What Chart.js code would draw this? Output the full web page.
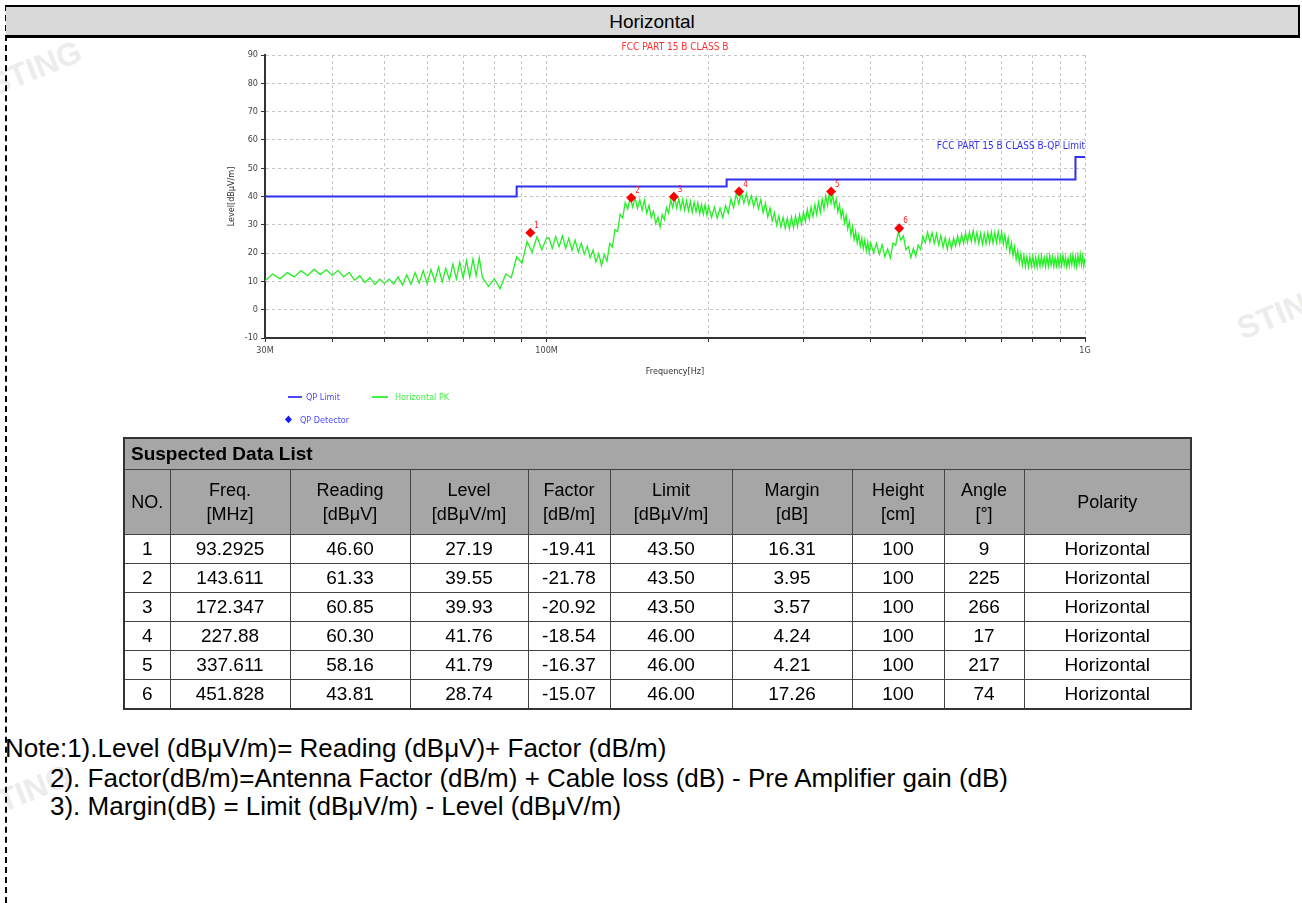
<!DOCTYPE html>
<html>
<head>
<meta charset="utf-8">
<script src="https://cdn.jsdelivr.net/npm/chart.js@4"></script>
<style>
  html,body{margin:0;padding:0;background:#fff;}
  body{width:1302px;height:903px;position:relative;overflow:hidden;font-family:"Liberation Sans",Arial,sans-serif;}
  #leftdash{position:absolute;left:5px;top:5px;bottom:0;border-left:2px dashed #000;}
  #topbar{position:absolute;left:6px;top:5px;width:1292px;height:28px;background:#d9d9d9;border-top:2px solid #000;border-bottom:3px solid #000;border-right:2px solid #000;text-align:center;font-size:19px;line-height:29px;color:#000;}
  #chartbox{position:absolute;left:200px;top:40px;width:900px;height:400px;}
  .lg{position:absolute;font-family:"Liberation Sans Narrow","DejaVu Sans Condensed",sans-serif;font-size:9px;line-height:10px;}
  .lgline{position:absolute;height:2px;}
  .wm{position:absolute;color:#ececec;font-weight:bold;font-size:32px;transform:rotate(-22deg);white-space:nowrap;}
  table{position:absolute;left:123px;top:437px;width:1067px;border-collapse:collapse;table-layout:fixed;font-size:19px;border:2px solid #333;}
  td,th{border:1px solid #444;text-align:center;padding:0;color:#000;}
  .cap{background:#a6a6a6;text-align:left;font-weight:bold;font-size:19px;height:30px;padding-left:6px;}
  th{background:#a6a6a6;font-weight:normal;font-size:18px;line-height:24px;height:64px;}
  td{height:28px;line-height:20px;}
  .note{position:absolute;font-size:26px;line-height:30px;color:#000;white-space:nowrap;}
</style>
</head>
<body>
<div class="wm" style="left:-14px;top:50px;">STING</div>
<div class="wm" style="left:1236px;top:298px;">STIN</div>
<div class="wm" style="left:-4px;top:770px;">TING</div>
<div id="leftdash"></div>
<div id="topbar">Horizontal</div>
<div id="chartbox"><canvas id="c"></canvas></div>

<div class="lgline" style="left:288px;top:396px;width:14px;background:#4a4aff;"></div>
<div class="lg" style="left:306px;top:392px;color:#4a4aff;">QP Limit</div>
<div class="lgline" style="left:372px;top:396px;width:16px;background:#44ee44;"></div>
<div class="lg" style="left:395px;top:392px;color:#44ee44;">Horizontal PK</div>
<div class="lg" style="left:285px;top:414px;color:#1a1aff;font-size:10px;">&#9670;</div>
<div class="lg" style="left:300px;top:415px;color:#4a4aff;">QP Detector</div>

<table id="tbl"></table>

<div class="note" style="left:5px;top:733px;">Note:1).Level (dBμV/m)= Reading (dBμV)+ Factor (dB/m)</div>
<div class="note" style="left:50px;top:763px;">2). Factor(dB/m)=Antenna Factor (dB/m) + Cable loss (dB) - Pre Amplifier gain (dB)</div>
<div class="note" style="left:50px;top:791px;">3). Margin(dB) = Limit (dBμV/m) - Level (dBμV/m)</div>

<script>
// ---------- DATA ----------
const chartTitle = "FCC PART 15 B CLASS B";
const limitLabel = "FCC PART 15 B CLASS B-QP Limit";
const xAxisTitle = "Frequency[Hz]";
const yAxisTitle = "Level[dBμV/m]";

const xTickValues = [30,40,50,60,70,80,90,100,200,300,400,500,600,700,800,900,1000];
const xTickLabels = ["30M","","","","","","","100M","","","","","","","","","1G"];

const limitFreq = [30, 88, 88, 216, 216, 960, 960, 1000];
const limitLevel = [40, 40, 43.5, 43.5, 46, 46, 54, 54];

const peakFreq = [
30,31,32,33,34,35,36,37,38,39,40,41,42,43,44,45,46,47,48,49,
50,51,52,53,54,55,56,57,58,59,60,61,62,63,64,65,66,67,68,69,70,71,72,73,74,75,76,
78,80,82,84,86,88,90,92,94,96,98,100,
101,102.5,104,105.5,107,108.5,110,111.5,113,114.5,116,117.5,119,120.5,122,123.5,125,126.5,128,129.5,
131,132.5,134,135.5,137,138.5,140,141.5,143,144.5,146,147.5,149,150.5,152,153.5,155,156.5,158,159.5,
161,162.5,164,165.5,167,168.5,170,171.5,173,174.5,176,177.5,179,180.5,182,183.5,185,186.5,188,189.5,
191,192.5,194,195.5,197,198.5,200,
202.5,205,207.5,210,212.5,215,217.5,220,222.5,225,227.5,230,232.5,235,237.5,240,242.5,245,247.5,250,
252.5,255,257.5,260,262.5,265,267.5,270,272.5,275,277.5,280,282.5,285,287.5,290,292.5,295,297.5,300,
302.5,305,307.5,310,312.5,315,317.5,320,322.5,325,327.5,330,332.5,335,337.5,340,342.5,345,347.5,350,
352.5,355,357.5,360,362.5,365,367.5,370,372.5,375,377.5,380,382.5,385,387.5,390,392.5,395,397.5,400,
405,410,415,420,425,430,435,440,445,450,455,460,465,470,475,480,485,490,495,500,
505,510,515,520,525,530,535,540,545,550,555,560,565,570,575,580,585,590,595,600,
605,610,615,620,625,630,635,640,645,650,655,660,665,670,675,680,685,690,695,700,
705,710,715,720,725,730,735,740,745,750,755,760,765,770,775,780,785,790,795,800,
805,810,815,820,825,830,835,840,845,850,855,860,865,870,875,880,885,890,895,900,
905,910,915,920,925,930,935,940,945,950,955,960,965,970,975,980,985,990,995,1000];

const peakLevel = [
10.2,12.6,10.9,13.1,11.6,13.8,12.0,14.3,12.4,14.1,12.1,13.9,11.6,13.2,10.4,12.0,9.6,11.3,8.9,10.8,
9.3,10.8,9.1,11.6,8.7,12.3,9.0,13.1,9.4,13.8,9.2,14.2,10.1,15.0,9.8,14.6,10.6,16.1,10.9,16.8,11.2,17.3,11.5,17.9,12.0,18.4,11.4,
8.2,10.9,7.4,12.6,11.3,18.7,16.4,24.1,20.3,25.8,21.2,25.3,
25.4,21.6,25.9,22.3,26.1,21.7,25.2,21.0,24.6,20.4,23.5,19.6,22.4,18.3,21.1,16.9,19.8,15.6,19.5,17.2,
23.4,22.1,28.3,27.6,33.8,32.4,37.9,35.6,39.8,36.3,39.6,35.8,38.9,35.2,38.7,34.1,36.9,32.6,34.8,30.4,
32.7,29.2,33.6,31.8,36.1,34.2,38.8,36.1,39.6,35.9,39.2,35.6,38.9,35.2,38.5,34.9,38.3,34.4,37.9,34.6,
37.8,33.9,37.2,33.7,37.0,33.4,36.6,
32.6,36.2,32.3,35.9,32.5,36.8,34.1,39.2,36.0,40.9,37.4,41.6,37.6,41.1,37.2,40.3,36.4,39.8,35.7,38.9,
34.3,37.6,32.8,35.9,31.4,34.2,29.9,33.1,29.2,32.6,28.7,32.4,28.6,32.7,28.9,33.1,29.4,33.6,30.2,34.5,
31.1,35.4,32.0,36.2,32.9,37.1,33.6,38.0,34.4,39.1,35.5,40.2,36.8,41.0,37.6,40.7,36.4,39.2,34.6,37.1,
32.5,35.2,30.6,33.3,28.5,31.2,26.4,29.3,24.8,27.6,23.5,26.4,22.4,25.3,21.5,24.6,20.8,23.9,20.2,23.5,
20.1,23.4,19.6,22.9,18.7,21.4,18.2,23.6,22.8,27.4,24.6,26.1,21.2,22.3,18.4,21.6,18.9,22.8,21.3,25.9,
23.7,27.4,23.9,27.2,23.5,26.8,22.9,26.3,22.1,25.4,21.4,24.9,21.6,25.3,22.4,26.1,22.9,26.6,23.4,27.1,
23.8,27.4,24.1,27.9,23.8,27.3,23.4,27.0,23.1,26.8,23.3,27.2,23.6,27.5,23.5,27.3,23.7,27.6,23.9,27.4,
23.2,26.5,22.1,25.3,20.4,23.6,19.1,22.2,17.8,20.9,16.6,19.8,15.7,19.1,15.2,18.8,15.1,18.6,15.4,18.9,
15.2,18.4,14.9,18.7,15.3,19.0,15.6,18.5,15.1,18.8,15.4,19.2,15.7,18.6,15.2,18.4,15.5,18.9,15.3,18.7,
15.6,19.3,15.8,18.5,15.1,18.2,15.4,18.9,15.9,19.4,15.6,18.8,15.3,19.1,16.2,19.6,15.8,18.9,15.4,18.3];

// QP detector table
const qpNo = [1,2,3,4,5,6];
const qpFreq = [93.2925,143.611,172.347,227.88,337.611,451.828];
const qpFreqText = ["93.2925","143.611","172.347","227.88","337.611","451.828"];
const qpReading = ["46.60","61.33","60.85","60.30","58.16","43.81"];
const qpLevel = [27.19,39.55,39.93,41.76,41.79,28.74];
const qpFactor = ["-19.41","-21.78","-20.92","-18.54","-16.37","-15.07"];
const qpLimit = ["43.50","43.50","43.50","46.00","46.00","46.00"];
const qpMargin = ["16.31","3.95","3.57","4.24","4.21","17.26"];
const qpHeight = ["100","100","100","100","100","100"];
const qpAngle = ["9","225","266","17","217","74"];
const qpPolarity = ["Horizontal","Horizontal","Horizontal","Horizontal","Horizontal","Horizontal"];

const tableHeaders = ["NO.","Freq.<br>[MHz]","Reading<br>[dBμV]","Level<br>[dBμV/m]","Factor<br>[dB/m]","Limit<br>[dBμV/m]","Margin<br>[dB]","Height<br>[cm]","Angle<br>[°]","Polarity"];
const colWidths = [46,120,120,118,82,122,120,92,80,167];

// ---------- TABLE ----------
(function(){
  const t = document.getElementById('tbl');
  let h = '<colgroup>' + colWidths.map(w=>'<col style="width:'+w+'px">').join('') + '</colgroup>';
  h += '<tr><td class="cap" colspan="10">Suspected Data List</td></tr>';
  h += '<tr>' + tableHeaders.map(s=>'<th>'+s+'</th>').join('') + '</tr>';
  for(let i=0;i<qpNo.length;i++){
    h += '<tr><td>'+qpNo[i]+'</td><td>'+qpFreqText[i]+'</td><td>'+qpReading[i]+'</td><td>'+qpLevel[i].toFixed(2)+'</td><td>'+qpFactor[i]+'</td><td>'+qpLimit[i]+'</td><td>'+qpMargin[i]+'</td><td>'+qpHeight[i]+'</td><td>'+qpAngle[i]+'</td><td>'+qpPolarity[i]+'</td></tr>';
  }
  t.innerHTML = h;
})();

// ---------- CHART ----------
const FONT = '"Liberation Sans Narrow","DejaVu Sans Condensed",sans-serif';

const overlay = {
  id:'overlay',
  afterDraw(chart){
    const {ctx, chartArea:a, scales:{x,y}} = chart;
    ctx.save();
    ctx.font = '10px ' + FONT;
    ctx.textBaseline = 'middle';
    ctx.textAlign = 'center';
    ctx.fillStyle = '#ff3030';
    ctx.fillText(chartTitle, (a.left+a.right)/2, a.top - 8);
    ctx.fillStyle = '#3030ee';
    ctx.textAlign = 'right';
    ctx.fillText(limitLabel, a.right, y.getPixelForValue(54) - 10);
    ctx.fillStyle = '#333';
    ctx.textAlign = 'center';
    ctx.font = '9px ' + FONT;
    ctx.fillText(xAxisTitle, (a.left+a.right)/2, a.bottom + 34);
    ctx.save();
    ctx.translate(32, (a.top+a.bottom)/2);
    ctx.rotate(-Math.PI/2);
    ctx.fillText(yAxisTitle, 0, 0);
    ctx.restore();
    ctx.fillStyle = '#ff2020';
    ctx.font = '8px ' + FONT;
    ctx.textAlign = 'left';
    for(let i=0;i<qpNo.length;i++){
      const px = x.getPixelForValue(qpFreq[i]);
      const py = y.getPixelForValue(qpLevel[i]);
      ctx.fillText(String(qpNo[i]), px + 4, py - 7);
    }
    ctx.restore();
  }
};

new Chart(document.getElementById('c'), {
  type: 'scatter',
  data: {
    datasets: [
      {
        label: 'QP Detector',
        data: qpFreq.map((f,i)=>({x:f, y:qpLevel[i]})),
        pointStyle: 'rectRot',
        pointRadius: 5,
        backgroundColor: '#ff0000',
        borderColor: '#ff0000',
        borderWidth: 0,
        showLine: false,
        order: 0
      },
      {
        label: 'QP Limit',
        data: limitFreq.map((f,i)=>({x:f, y:limitLevel[i]})),
        borderColor: '#2f2fee',
        borderWidth: 2,
        pointRadius: 0,
        showLine: true,
        order: 1
      },
      {
        label: 'Horizontal PK',
        data: peakFreq.map((f,i)=>({x:f, y:peakLevel[i]})),
        borderColor: '#22f022',
        borderWidth: 1.3,
        pointRadius: 0,
        showLine: true,
        order: 2
      }
    ]
  },
  options: {
    responsive: true,
    maintainAspectRatio: false,
    animation: false,
    layout: { padding: { top: 15, right: 15, left: 0, bottom: 0 } },
    plugins: { legend: { display: false }, tooltip: { enabled: false }, title: { display: false } },
    scales: {
      x: {
        type: 'logarithmic',
        min: 30, max: 1000,
        afterFit(s){ s.height = 102; },
        afterBuildTicks(s){ s.ticks = xTickValues.map(v=>({value:v})); },
        ticks: {
          autoSkip: false, maxRotation: 0, minRotation: 0, padding: 3,
          color: '#444', font: { family: FONT, size: 9 },
          callback(v){ const i = xTickValues.indexOf(v); return i >= 0 ? xTickLabels[i] : ''; }
        },
        grid: { color: '#c4c4c4', lineWidth: 1, drawTicks: true, tickLength: 4, tickColor: '#333' },
        border: { display: true, color: '#333', width: 2, dash: [3,3] }
      },
      y: {
        min: -10, max: 90,
        afterFit(s){ s.width = 65; },
        ticks: { stepSize: 10, padding: 3, color: '#444', font: { family: FONT, size: 9 } },
        grid: { color: '#c4c4c4', lineWidth: 1, drawTicks: true, tickLength: 4, tickColor: '#333' },
        border: { display: true, color: '#333', width: 2, dash: [3,3] }
      }
    }
  },
  plugins: [overlay]
});
</script>
</body>
</html>
